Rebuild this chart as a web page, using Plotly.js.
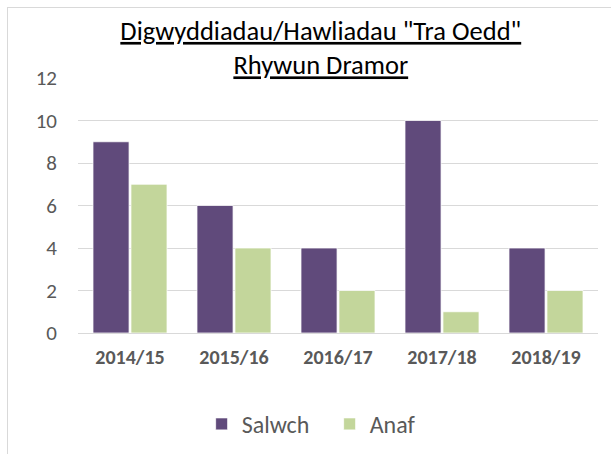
<!DOCTYPE html>
<html><head><meta charset="utf-8">
<script src="https://cdn.plot.ly/plotly-3.0.1.min.js"></script>
<style>
html,body{margin:0;padding:0;background:#fff;}
#frame{position:absolute;left:7px;top:7px;width:610px;height:460px;border:1px solid #d9d9d9;box-sizing:border-box;}
#chart{position:absolute;left:0;top:0;width:611px;height:454px;}
</style></head>
<body>
<div id="frame"></div>
<div id="chart"></div>
<script>
const categories = ["2014/15","2015/16","2016/17","2017/18","2018/19"];
const salwch = [9,6,4,10,4];
const anaf = [7,4,2,1,2];
const seriesNames = ["Salwch","Anaf"];
const titleLines = ['Digwyddiadau/Hawliadau "Tra Oedd"','Rhywun Dramor'];

const font = "Calibri, Carlito, 'Open Sans', 'Liberation Sans', sans-serif";
const traces = [
  {type:'bar', name:seriesNames[0], x:categories, y:salwch,
   marker:{color:'#604A7B', line:{color:'#ffffff', width:0.75}}},
  {type:'bar', name:seriesNames[1], x:categories, y:anaf,
   marker:{color:'#C3D69B', line:{color:'#ffffff', width:0.75}}}
];
const layout = {
  width:611, height:454,
  paper_bgcolor:'rgba(0,0,0,0)', plot_bgcolor:'rgba(0,0,0,0)',
  margin:{l:78, r:13, t:78, b:121},
  barmode:'group', bargap:0.27, bargroupgap:0.05,
  font:{family:font, color:'#595959'},
  title:{text:'<u>'+titleLines[0]+'</u><br><u>'+titleLines[1]+'</u>',
    font:{family:font, size:26.5, color:'#000000'}, x:0.525, xanchor:'center', y:0.912, yanchor:'top'},
  xaxis:{type:'category', showgrid:false, showline:true, linecolor:'#d9d9d9', linewidth:1,
    ticks:'', tickfont:{family:font, size:20, color:'#595959', weight:'bold'}, ticklabelstandoff:6},
  yaxis:{range:[0,12], dtick:2, showgrid:true, gridcolor:'#d9d9d9', gridwidth:1,
    zeroline:false, showline:false, ticks:'', tickfont:{family:font, size:21, color:'#595959'},
    ticklabelstandoff:20},
  legend:{orientation:'h', xref:'container', yref:'container', x:0.33, xanchor:'left', y:0.115, yanchor:'top',
    font:{family:font, size:24, color:'#595959'}, itemwidth:30, entrywidth:83, traceorder:'normal'},
  showlegend:true
};
Plotly.newPlot('chart', traces, layout, {displayModeBar:false, staticPlot:true});
</script>
</body></html>
